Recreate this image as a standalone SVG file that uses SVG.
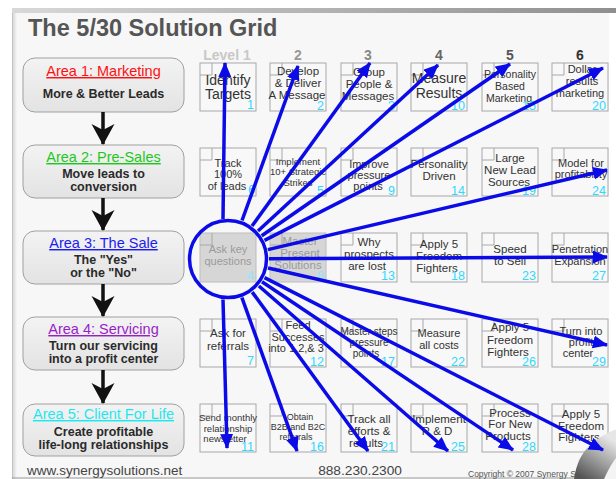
<svg xmlns="http://www.w3.org/2000/svg" width="616" height="479" viewBox="0 0 616 479">
<defs>
<style>
text{font-family:"Liberation Sans",Arial,sans-serif}
.cell rect{fill:#f8f8f8;stroke:#a8a8a8;stroke-width:1}
.cell path{fill:none;stroke:#a8a8a8;stroke-width:1}
.cell text{fill:#333;text-anchor:middle}
.cell text.num{fill:#2fd8ff;text-anchor:end;font-size:12.5px}
.gray rect{fill:#d6d6d6;stroke:#bdbdbd}
.gray text{fill:#9a9a9a}
.gray text.num{fill:#8ee6f8}
.area rect{fill:url(#areaGrad);stroke:#a0a0a0;stroke-width:1}
.area text{text-anchor:middle}
.area .ttl{font-size:14.5px;text-decoration:underline}
.area .sub{font-size:12.5px;font-weight:bold;fill:#2a2a2a}
.lvl{font-size:14px;font-weight:bold;text-anchor:middle}
.ray{stroke:#0b0be8;stroke-width:3.5;fill:none;marker-end:url(#bh)}
.down{stroke:#111;stroke-width:3.5;fill:none;marker-end:url(#kh)}
</style>
<linearGradient id="areaGrad" x1="0" y1="0" x2="0" y2="1"><stop offset="0" stop-color="#f3f3f3"/><stop offset="1" stop-color="#e3e3e3"/></linearGradient>
<linearGradient id="topShade" x1="0" y1="0" x2="1" y2="0"><stop offset="0" stop-color="#d8d8d8"/><stop offset="1" stop-color="#8f8f8f"/></linearGradient>
<linearGradient id="leftShade" x1="0" y1="0" x2="1" y2="0"><stop offset="0" stop-color="#d0d0d0"/><stop offset="1" stop-color="#f7f7f7"/></linearGradient>
<linearGradient id="curl" gradientUnits="userSpaceOnUse" x1="580" y1="476" x2="606" y2="436"><stop offset="0" stop-color="#555"/><stop offset="0.5" stop-color="#a0a0a0"/><stop offset="1" stop-color="#e6e6e6"/></linearGradient>
<marker id="bh" markerUnits="userSpaceOnUse" markerWidth="16" markerHeight="14" refX="14" refY="6.5" orient="auto" viewBox="0 0 16 14"><path d="M0,0 L15,6.5 L0,13 Z" fill="#0b0be8"/></marker>
<marker id="kh" markerUnits="userSpaceOnUse" markerWidth="22" markerHeight="24" refX="20" refY="11.5" orient="auto" viewBox="0 0 22 24"><path d="M0,0 L21,11.5 L0,23 L6,11.5 Z" fill="#111"/></marker>
</defs>

<rect x="0" y="0" width="616" height="479" fill="#ffffff"/>
<rect x="12" y="8" width="604" height="5" fill="url(#topShade)"/>
<rect x="12" y="13" width="597" height="466" fill="#f7f7f7"/>
<rect x="12" y="13" width="5" height="466" fill="url(#leftShade)"/>
<line x1="12.5" y1="13" x2="12.5" y2="479" stroke="#c4c4c4"/>
<line x1="12" y1="478" x2="616" y2="478" stroke="#999"/>

<text x="28" y="36" font-size="23.5" font-weight="bold" fill="#555">The 5/30 Solution Grid</text>

<g id="levels">
<text class="lvl" x="227" y="60" fill="#c8c8c8">Level 1</text>
<text class="lvl" x="298" y="60" fill="#999">2</text>
<text class="lvl" x="368" y="60" fill="#888">3</text>
<text class="lvl" x="439" y="60" fill="#666">4</text>
<text class="lvl" x="510" y="60" fill="#555">5</text>
<text class="lvl" x="580" y="60" fill="#333">6</text>
</g>

<g id="area1" class="area"><rect x="23" y="58" width="161" height="54" rx="12"/><text class="ttl" x="103.5" y="76" fill="#ff1010">Area 1: Marketing</text><text class="sub" x="103.5" y="98">More &amp; Better Leads</text></g>
<g id="area2" class="area"><rect x="23" y="145" width="161" height="53" rx="12"/><text class="ttl" x="103.5" y="162" fill="#1ec81e">Area 2: Pre-Sales</text><text class="sub" x="103.5" y="178">Move leads to</text><text class="sub" x="103.5" y="191">conversion</text></g>
<g id="area3" class="area"><rect x="23" y="231" width="161" height="53" rx="12"/><text class="ttl" x="103.5" y="248" fill="#1c1cf0">Area 3: The Sale</text><text class="sub" x="103.5" y="264">The "Yes"</text><text class="sub" x="103.5" y="277">or the "No"</text></g>
<g id="area4" class="area"><rect x="23" y="317" width="161" height="53" rx="12"/><text class="ttl" x="103.5" y="334" fill="#9a1ec8">Area 4: Servicing</text><text class="sub" x="103.5" y="350">Turn our servicing</text><text class="sub" x="103.5" y="363">into a profit center</text></g>
<g id="area5" class="area"><rect x="23" y="404" width="161" height="52" rx="12"/><text class="ttl" x="103.5" y="419" fill="#1ee8ee">Area 5: Client For Life</text><text class="sub" x="103.5" y="436">Create profitable</text><text class="sub" x="103.5" y="449">life-long relationships</text></g>

<g id="b1" class="cell"><rect x="200" y="63" width="56" height="48"/><path d="M200,75h12v-12"/><text font-size="14"><tspan x="228" y="85">Identify</tspan><tspan x="228" y="99">Targets</tspan></text><text class="num" x="254" y="109">1</text></g>
<g id="b2" class="cell"><rect x="270" y="63" width="56" height="48"/><path d="M270,75h12v-12"/><text font-size="11.5"><tspan x="298" y="75">Develop</tspan><tspan x="298" y="87">&amp; Deliver</tspan><tspan x="297" y="99">A Message</tspan></text><text class="num" x="324" y="110">2</text></g>
<g id="b3" class="cell"><rect x="341" y="63" width="56" height="48"/><path d="M341,75h12v-12"/><text font-size="11.5"><tspan x="369" y="76">Group</tspan><tspan x="369" y="88">People &amp;</tspan><tspan x="368" y="100">Messages</tspan></text><text class="num" x="395" y="110">3</text></g>
<g id="b10" class="cell"><rect x="411" y="63" width="56" height="48"/><path d="M411,75h12v-12"/><text font-size="14"><tspan x="439" y="83">Measure</tspan><tspan x="439" y="98">Results</tspan></text><text class="num" x="465" y="110">10</text></g>
<g id="b15" class="cell"><rect x="482" y="63" width="56" height="48"/><path d="M482,75h12v-12"/><text font-size="10.5"><tspan x="510" y="78">Personality</tspan><tspan x="510" y="90">Based</tspan><tspan x="509" y="102">Marketing</tspan></text><text class="num" x="536" y="110">15</text></g>
<g id="b20" class="cell"><rect x="552" y="63" width="56" height="48"/><path d="M552,75h12v-12"/><text font-size="11"><tspan x="582" y="73">Dollar</tspan><tspan x="582" y="85">results</tspan><tspan x="580" y="97">marketing</tspan></text><text class="num" x="606" y="110">20</text></g>

<g id="b6" class="cell"><rect x="200" y="148" width="56" height="48"/><path d="M200,160h12v-12"/><text font-size="11"><tspan x="228" y="167">Track</tspan><tspan x="228" y="178">100%</tspan><tspan x="227" y="190">of leads</tspan></text><text class="num" x="255" y="194">6</text></g>
<g id="b5" class="cell"><rect x="270" y="148" width="56" height="48"/><path d="M270,160h12v-12"/><text font-size="9.5"><tspan x="298" y="165">Implement</tspan><tspan x="298" y="175">10+ Strategic</tspan><tspan x="298" y="186">Strikes</tspan></text><text class="num" x="324" y="195">5</text></g>
<g id="b9" class="cell"><rect x="341" y="148" width="56" height="48"/><path d="M341,160h12v-12"/><text font-size="11"><tspan x="369" y="168">Improve</tspan><tspan x="369" y="179">pressure</tspan><tspan x="368" y="190">points</tspan></text><text class="num" x="395" y="195">9</text></g>
<g id="b14" class="cell"><rect x="411" y="148" width="56" height="48"/><path d="M411,160h12v-12"/><text font-size="11.5"><tspan x="439" y="168">Personality</tspan><tspan x="439" y="180">Driven</tspan></text><text class="num" x="465" y="195">14</text></g>
<g id="b19" class="cell"><rect x="482" y="148" width="56" height="48"/><path d="M482,160h12v-12"/><text font-size="11.5"><tspan x="510" y="162">Large</tspan><tspan x="510" y="174">New Lead</tspan><tspan x="509" y="186">Sources</tspan></text><text class="num" x="536" y="195">19</text></g>
<g id="b24" class="cell"><rect x="552" y="148" width="56" height="48"/><path d="M552,160h12v-12"/><text font-size="11"><tspan x="581" y="167">Model for</tspan><tspan x="581" y="178">profitability</tspan></text><text class="num" x="606" y="195">24</text></g>

<g id="b4" class="cell gray"><rect x="200" y="233" width="56" height="49"/><path d="M200,245h12v-12"/><text font-size="11"><tspan x="228" y="253">Ask key</tspan><tspan x="228" y="265">questions</tspan></text><text class="num" x="254" y="280">4</text></g>
<g id="b8" class="cell gray"><rect x="270" y="233" width="56" height="49"/><path d="M270,245h12v-12"/><text font-size="11.5"><tspan x="300" y="245">Master</tspan><tspan x="300" y="257">Present</tspan><tspan x="298" y="269">Solutions</tspan></text><text class="num" x="324" y="280">8</text></g>
<g id="b13" class="cell"><rect x="341" y="233" width="56" height="49"/><path d="M341,245h12v-12"/><text font-size="11.5"><tspan x="369" y="246">Why</tspan><tspan x="369" y="258">prospects</tspan><tspan x="367" y="270">are lost</tspan></text><text class="num" x="395" y="280">13</text></g>
<g id="b18" class="cell"><rect x="411" y="233" width="56" height="49"/><path d="M411,245h12v-12"/><text font-size="11.5"><tspan x="439" y="248">Apply 5</tspan><tspan x="439" y="260">Freedom</tspan><tspan x="437" y="272">Fighters</tspan></text><text class="num" x="465" y="280">18</text></g>
<g id="b23" class="cell"><rect x="482" y="233" width="56" height="49"/><path d="M482,245h12v-12"/><text font-size="11.5"><tspan x="510" y="253">Speed</tspan><tspan x="510" y="265">to Sell</tspan></text><text class="num" x="536" y="280">23</text></g>
<g id="b27" class="cell"><rect x="552" y="233" width="56" height="49"/><path d="M552,245h12v-12"/><text font-size="11"><tspan x="580" y="253">Penetration</tspan><tspan x="580" y="265">Expansion</tspan></text><text class="num" x="606" y="280">27</text></g>

<g id="b7" class="cell"><rect x="200" y="319" width="56" height="48"/><path d="M200,331h12v-12"/><text font-size="11.5"><tspan x="228" y="337">Ask for</tspan><tspan x="228" y="350">referrals</tspan></text><text class="num" x="254" y="365">7</text></g>
<g id="b12" class="cell"><rect x="270" y="319" width="56" height="48"/><path d="M270,331h12v-12"/><text font-size="11"><tspan x="298" y="329">Feed</tspan><tspan x="298" y="341">Successes</tspan><tspan x="296" y="352">into 1,2,&amp; 3</tspan></text><text class="num" x="324" y="366">12</text></g>
<g id="b17" class="cell"><rect x="341" y="319" width="56" height="48"/><path d="M341,331h12v-12"/><text font-size="10"><tspan x="369" y="335">Master steps</tspan><tspan x="369" y="346">pressure</tspan><tspan x="366" y="357">points</tspan></text><text class="num" x="395" y="366">17</text></g>
<g id="b22" class="cell"><rect x="411" y="319" width="56" height="48"/><path d="M411,331h12v-12"/><text font-size="11"><tspan x="439" y="337">Measure</tspan><tspan x="439" y="349">all costs</tspan></text><text class="num" x="465" y="366">22</text></g>
<g id="b26" class="cell"><rect x="482" y="319" width="56" height="48"/><path d="M482,331h12v-12"/><text font-size="11.5"><tspan x="510" y="331">Apply 5</tspan><tspan x="510" y="344">Freedom</tspan><tspan x="508" y="356">Fighters</tspan></text><text class="num" x="536" y="366">26</text></g>
<g id="b29" class="cell"><rect x="552" y="319" width="56" height="48"/><path d="M552,331h12v-12"/><text font-size="11"><tspan x="581" y="335">Turn into</tspan><tspan x="581" y="346">profit</tspan><tspan x="578" y="357">center</tspan></text><text class="num" x="606" y="366">29</text></g>

<g id="b11" class="cell"><rect x="200" y="404" width="56" height="48"/><path d="M200,416h12v-12"/><text font-size="9.5"><tspan x="228" y="421">Send monthly</tspan><tspan x="228" y="432">relationship</tspan><tspan x="225" y="442">newsletter</tspan></text><text class="num" x="254" y="451">11</text></g>
<g id="b16" class="cell"><rect x="270" y="404" width="56" height="48"/><path d="M270,416h12v-12"/><text font-size="9"><tspan x="300" y="420">Obtain</tspan><tspan x="298" y="430">B2B and B2C</tspan><tspan x="296" y="440">referrals</tspan></text><text class="num" x="324" y="451">16</text></g>
<g id="b21" class="cell"><rect x="341" y="404" width="56" height="48"/><path d="M341,416h12v-12"/><text font-size="11.5"><tspan x="369" y="423">Track all</tspan><tspan x="369" y="435">efforts &amp;</tspan><tspan x="366" y="447">results</tspan></text><text class="num" x="395" y="451">21</text></g>
<g id="b25" class="cell"><rect x="411" y="404" width="56" height="48"/><path d="M411,416h12v-12"/><text font-size="11.5"><tspan x="439" y="423">Implement</tspan><tspan x="437" y="435">R &amp; D</tspan></text><text class="num" x="465" y="451">25</text></g>
<g id="b28" class="cell"><rect x="482" y="404" width="56" height="48"/><path d="M482,416h12v-12"/><text font-size="11.5"><tspan x="510" y="417">Process</tspan><tspan x="510" y="428">For New</tspan><tspan x="508" y="440">Products</tspan></text><text class="num" x="536" y="451">28</text></g>
<g id="b30" class="cell"><rect x="552" y="404" width="56" height="48"/><path d="M552,416h12v-12"/><text font-size="11.5"><tspan x="581" y="418">Apply 5</tspan><tspan x="581" y="430">Freedom</tspan><tspan x="579" y="441">Fighters</tspan></text></g>

<text x="27" y="475" font-size="13.5" fill="#444">www.synergysolutions.net</text>
<text x="360" y="475" font-size="13.7" fill="#444" text-anchor="middle">888.230.2300</text>
<text x="468" y="477" font-size="8.5" fill="#555">Copyright © 2007 Synergy Solutions</text>

<g id="curlCorner">
<path d="M574,479 C577,460 584,443 614,430 L616,430 L616,479 Z" fill="url(#curl)"/>
<path d="M604,479 C608,470 612,463 616,458 L616,479 Z" fill="#f4f4f4"/>
</g>

<g id="hub"><circle cx="228" cy="259" r="38.5" fill="none" stroke="#0b0be8" stroke-width="3.5"/></g>

<g id="connectors">
<line class="down" x1="103" y1="112" x2="103" y2="144"/>
<line class="down" x1="103" y1="198" x2="103" y2="230"/>
<line class="down" x1="103" y1="284" x2="103" y2="316"/>
<line class="down" x1="103" y1="370" x2="103" y2="403"/>
<line class="ray" x1="223" y1="219" x2="225" y2="63"/>
<line class="ray" x1="242" y1="220.5" x2="298" y2="66"/>
<line class="ray" x1="252" y1="226" x2="370" y2="63"/>
<line class="ray" x1="258" y1="231" x2="438" y2="65"/>
<line class="ray" x1="261.7" y1="235.7" x2="510" y2="64"/>
<line class="ray" x1="264.5" y1="240.4" x2="603" y2="68"/>
<line class="ray" x1="267.9" y1="249.6" x2="607" y2="170"/>
<line class="ray" x1="269" y1="258.8" x2="607" y2="257"/>
<line class="ray" x1="268" y1="268" x2="607" y2="345"/>
<line class="ray" x1="264.5" y1="277.6" x2="603" y2="450"/>
<line class="ray" x1="262" y1="281.8" x2="513" y2="450"/>
<line class="ray" x1="258.9" y1="286" x2="448" y2="451"/>
<line class="ray" x1="252.2" y1="292.1" x2="368" y2="451"/>
<line class="ray" x1="241.9" y1="297.6" x2="297" y2="451"/>
<line class="ray" x1="223" y1="299.5" x2="227" y2="448"/>
</g>
</svg>
